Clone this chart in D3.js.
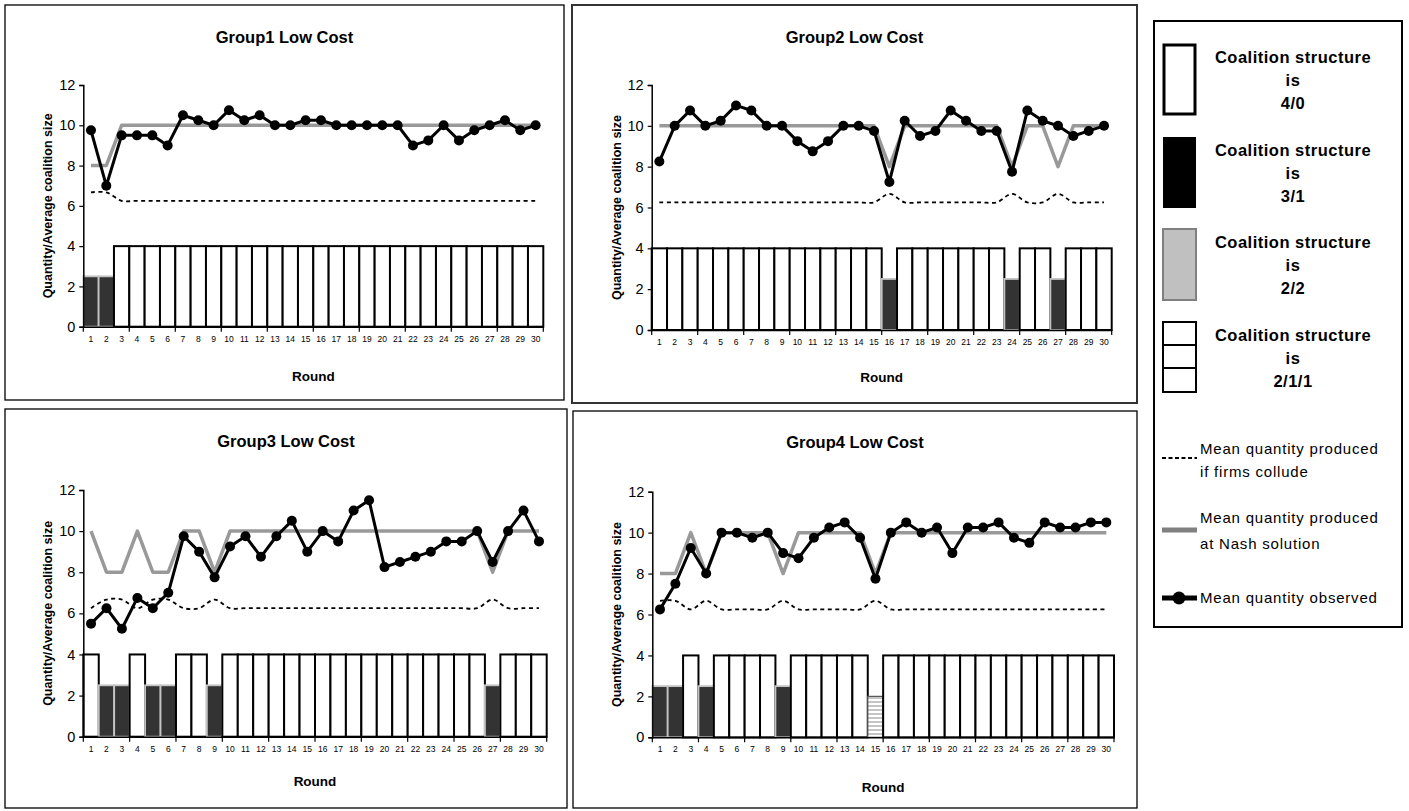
<!DOCTYPE html>
<html>
<head>
<meta charset="utf-8">
<script src="https://cdn.jsdelivr.net/npm/d3@7"></script>
<style>
  body { margin: 0; background: #fff; }
  svg { display: block; font-family: Arial, "Liberation Sans", sans-serif; }
</style>
</head>
<body>
<svg id="chart" width="1409" height="811"></svg>
<script>
// ---- data -------------------------------------------------------------
const rounds = [1,2,3,4,5,6,7,8,9,10,11,12,13,14,15,16,17,18,19,20,21,22,23,24,25,26,27,28,29,30];
const yTickValues = [0, 2, 4, 6, 8, 10, 12];
const groupTitles = ["Group1 Low Cost", "Group2 Low Cost", "Group3 Low Cost", "Group4 Low Cost"];

// average coalition size shown by the bar for each coalition structure
const structureCodes = ["4/0", "3/1", "2/2", "2/1/1"];
const structureSizes = [4, 2.5, 2, 2];

const g1Structure = ["3/1","3/1","4/0","4/0","4/0","4/0","4/0","4/0","4/0","4/0","4/0","4/0","4/0","4/0","4/0",
                     "4/0","4/0","4/0","4/0","4/0","4/0","4/0","4/0","4/0","4/0","4/0","4/0","4/0","4/0","4/0"];
const g1Observed  = [9.75,7,9.5,9.5,9.5,9,10.5,10.25,10,10.75,10.25,10.5,10,10,10.25,
                     10.25,10,10,10,10,10,9,9.25,10,9.25,9.75,10,10.25,9.75,10];
const g1Nash      = [8,8,10,10,10,10,10,10,10,10,10,10,10,10,10,
                     10,10,10,10,10,10,10,10,10,10,10,10,10,10,10];
const g1Collude   = [6.67,6.67,6.25,6.25,6.25,6.25,6.25,6.25,6.25,6.25,6.25,6.25,6.25,6.25,6.25,
                     6.25,6.25,6.25,6.25,6.25,6.25,6.25,6.25,6.25,6.25,6.25,6.25,6.25,6.25,6.25];

const g2Structure = ["4/0","4/0","4/0","4/0","4/0","4/0","4/0","4/0","4/0","4/0","4/0","4/0","4/0","4/0","4/0",
                     "3/1","4/0","4/0","4/0","4/0","4/0","4/0","4/0","3/1","4/0","4/0","3/1","4/0","4/0","4/0"];
const g2Observed  = [8.25,10,10.75,10,10.25,11,10.75,10,10,9.25,8.75,9.25,10,10,9.75,
                     7.25,10.25,9.5,9.75,10.75,10.25,9.75,9.75,7.75,10.75,10.25,10,9.5,9.75,10];
const g2Nash      = [10,10,10,10,10,10,10,10,10,10,10,10,10,10,10,
                     8,10,10,10,10,10,10,10,8,10,10,8,10,10,10];
const g2Collude   = [6.25,6.25,6.25,6.25,6.25,6.25,6.25,6.25,6.25,6.25,6.25,6.25,6.25,6.25,6.25,
                     6.67,6.25,6.25,6.25,6.25,6.25,6.25,6.25,6.67,6.25,6.25,6.67,6.25,6.25,6.25];

const g3Structure = ["4/0","3/1","3/1","4/0","3/1","3/1","4/0","4/0","3/1","4/0","4/0","4/0","4/0","4/0","4/0",
                     "4/0","4/0","4/0","4/0","4/0","4/0","4/0","4/0","4/0","4/0","4/0","3/1","4/0","4/0","4/0"];
const g3Observed  = [5.5,6.25,5.25,6.75,6.25,7,9.75,9,7.75,9.25,9.75,8.75,9.75,10.5,9,
                     10,9.5,11,11.5,8.25,8.5,8.75,9,9.5,9.5,10,8.5,10,11,9.5];
const g3Nash      = [10,8,8,10,8,8,10,10,8,10,10,10,10,10,10,
                     10,10,10,10,10,10,10,10,10,10,10,8,10,10,10];
const g3Collude   = [6.25,6.67,6.67,6.25,6.67,6.67,6.25,6.25,6.67,6.25,6.25,6.25,6.25,6.25,6.25,
                     6.25,6.25,6.25,6.25,6.25,6.25,6.25,6.25,6.25,6.25,6.25,6.67,6.25,6.25,6.25];

const g4Structure = ["3/1","3/1","4/0","3/1","4/0","4/0","4/0","4/0","3/1","4/0","4/0","4/0","4/0","4/0","2/1/1",
                     "4/0","4/0","4/0","4/0","4/0","4/0","4/0","4/0","4/0","4/0","4/0","4/0","4/0","4/0","4/0"];
const g4Observed  = [6.25,7.5,9.25,8,10,10,9.75,10,9,8.75,9.75,10.25,10.5,9.75,7.75,
                     10,10.5,10,10.25,9,10.25,10.25,10.5,9.75,9.5,10.5,10.25,10.25,10.5,10.5];
const g4Nash      = [8,8,10,8,10,10,10,10,8,10,10,10,10,10,8,
                     10,10,10,10,10,10,10,10,10,10,10,10,10,10,10];
const g4Collude   = [6.67,6.67,6.25,6.67,6.25,6.25,6.25,6.25,6.67,6.25,6.25,6.25,6.25,6.25,6.67,
                     6.25,6.25,6.25,6.25,6.25,6.25,6.25,6.25,6.25,6.25,6.25,6.25,6.25,6.25,6.25];

const legendStructureLabels = ["4/0", "3/1", "2/2", "2/1/1"];
const legendLineLabels = [
  ["Mean quantity produced", "if firms collude"],
  ["Mean quantity produced", "at Nash solution"],
  ["Mean quantity observed"]
];

// ---- layout -----------------------------------------------------------
const panels = [
  { frame: [5, 5, 559, 395],   plot: [83.3, 85, 543.3, 326.7],    titleY: 43,  roundY: 381,
    structure: g1Structure, observed: g1Observed, nash: g1Nash, collude: g1Collude, frameW: 1.3 },
  { frame: [572, 5, 565, 398], plot: [651.7, 85, 1111.7, 330],    titleY: 43,  roundY: 382,
    structure: g2Structure, observed: g2Observed, nash: g2Nash, collude: g2Collude, frameW: 2 },
  { frame: [5, 409, 562, 399], plot: [83.3, 490, 546.7, 736.7],   titleY: 447, roundY: 786,
    structure: g3Structure, observed: g3Observed, nash: g3Nash, collude: g3Collude, frameW: 1.3 },
  { frame: [573, 411, 564, 397], plot: [652.3, 491.7, 1114, 737.3], titleY: 448, roundY: 792,
    structure: g4Structure, observed: g4Observed, nash: g4Nash, collude: g4Collude, frameW: 1.3 }
];

const svg = d3.select("#chart");

// horizontal hatching for the 2/1/1 structure
const defs = svg.append("defs");
const pat = defs.append("pattern").attr("id", "hatch211")
  .attr("patternUnits", "userSpaceOnUse").attr("width", 6).attr("height", 4);
pat.append("rect").attr("width", 6).attr("height", 4).attr("fill", "#fff");
pat.append("line").attr("x1", 0).attr("x2", 6).attr("y1", 2).attr("y2", 2)
  .attr("stroke", "#8a8a8a").attr("stroke-width", 1);

const sizeOf = code => structureSizes[structureCodes.indexOf(code)];
const barStyle = {
  "4/0":   { fill: "#fff", stroke: "#000", sw: 2 },
  "3/1":   { fill: "#333", stroke: "#c4c4c4", sw: 1.8 },
  "2/2":   { fill: "#c0c0c0", stroke: "#808080", sw: 1.5 },
  "2/1/1": { fill: "url(#hatch211)", stroke: "#555", sw: 1.2 }
};

panels.forEach((p, i) => {
  const [fx, fy, fw, fh] = p.frame;
  const [x0, yTop, x1, yBottom] = p.plot;
  const g = svg.append("g");

  g.append("rect").attr("x", fx).attr("y", fy).attr("width", fw).attr("height", fh)
    .attr("fill", "#fff").attr("stroke", i === 1 ? "#333" : "#000").attr("stroke-width", p.frameW);

  g.append("text").attr("x", fx + fw / 2).attr("y", p.titleY)
    .attr("text-anchor", "middle").attr("font-weight", "bold").attr("font-size", 16.5)
    .text(groupTitles[i]);

  const x = d3.scaleBand().domain(rounds).range([x0, x1]).padding(0);
  const y = d3.scaleLinear().domain([0, 12]).range([yBottom, yTop]);

  // coalition-structure bars (drawn left to right so each outline overlaps its neighbour)
  const rows = rounds.map((r, k) => ({ r, s: p.structure[k] }));
  g.append("g").selectAll("rect").data(rows).join("rect")
    .attr("x", d => x(d.r))
    .attr("y", d => y(sizeOf(d.s)))
    .attr("width", x.bandwidth())
    .attr("height", d => y(0) - y(sizeOf(d.s)))
    .attr("fill", d => barStyle[d.s].fill)
    .attr("stroke", d => barStyle[d.s].stroke)
    .attr("stroke-width", d => barStyle[d.s].sw);

  // axes
  const yAxis = d3.axisLeft(y).tickValues(yTickValues).tickSize(4).tickPadding(4);
  const ya = g.append("g").attr("transform", `translate(${x0},0)`).call(yAxis);
  ya.select(".domain").attr("stroke", "#000").attr("stroke-width", 1.5);
  ya.selectAll(".tick line").attr("stroke", "#000").attr("stroke-width", 1.2);
  ya.selectAll("text").attr("font-size", 14.5).attr("fill", "#000")
    .attr("font-family", "Arial, 'Liberation Sans', sans-serif");

  const xa = g.append("g").attr("transform", `translate(0,${y(0)})`)
    .call(d3.axisBottom(x).tickSize(0).tickPadding(9));
  xa.select(".domain").attr("stroke", "#000").attr("stroke-width", 1.5);
  xa.selectAll("text").attr("font-size", 8.5).attr("fill", "#000")
    .attr("font-family", "Arial, 'Liberation Sans', sans-serif");
  // tick marks every third round boundary
  const boundaries = rounds.filter(r => (r - 1) % 3 === 0).map(r => x(r)).concat([x1]);
  g.append("g").selectAll("line").data(boundaries).join("line")
    .attr("x1", d => d).attr("x2", d => d)
    .attr("y1", y(0)).attr("y2", y(0) + 5)
    .attr("stroke", "#000").attr("stroke-width", 1.2);

  // axis titles
  g.append("text").attr("x", (x0 + x1) / 2).attr("y", p.roundY)
    .attr("text-anchor", "middle").attr("font-weight", "bold").attr("font-size", 13.5)
    .text("Round");
  g.append("text")
    .attr("transform", `translate(${x0 - 31},${(yTop + yBottom) / 2}) rotate(-90)`)
    .attr("text-anchor", "middle").attr("font-weight", "bold").attr("font-size", 12.5)
    .text("Quantity/Average coalition size");

  const cx = r => x(r) + x.bandwidth() / 2;

  // collusive quantity (smoothed dashed line)
  g.append("path").datum(rounds.map((r, k) => [cx(r), y(p.collude[k])]))
    .attr("fill", "none").attr("stroke", "#000").attr("stroke-width", 1.8)
    .attr("stroke-dasharray", "4,3.5")
    .attr("d", d3.line().curve(d3.curveCatmullRom.alpha(0.5)));

  // Nash quantity
  g.append("path").datum(rounds.map((r, k) => [cx(r), y(p.nash[k])]))
    .attr("fill", "none").attr("stroke", "#999").attr("stroke-width", 3.5)
    .attr("stroke-linejoin", "round")
    .attr("d", d3.line());

  // observed quantity
  g.append("path").datum(rounds.map((r, k) => [cx(r), y(p.observed[k])]))
    .attr("fill", "none").attr("stroke", "#000").attr("stroke-width", 3)
    .attr("stroke-linejoin", "round")
    .attr("d", d3.line());
  g.append("g").selectAll("circle").data(rounds.map((r, k) => [cx(r), y(p.observed[k])]))
    .join("circle").attr("cx", d => d[0]).attr("cy", d => d[1]).attr("r", 5).attr("fill", "#000");
});

// ---- legend -----------------------------------------------------------
const lg = svg.append("g");
lg.append("rect").attr("x", 1154).attr("y", 21).attr("width", 248).attr("height", 606)
  .attr("fill", "#fff").attr("stroke", "#000").attr("stroke-width", 2);

const swatchX = 1163, swatchW = 33, textCx = 1293;
const swatchTops = [44, 137, 229, 322];
const swatchH = 71;
legendStructureLabels.forEach((lab, i) => {
  const top = swatchTops[i];
  const s = lg.append("g");
  if (lab === "4/0") {
    s.append("rect").attr("x", swatchX + 1).attr("y", top + 1).attr("width", swatchW - 2).attr("height", swatchH - 2)
      .attr("fill", "#fff").attr("stroke", "#000").attr("stroke-width", 3);
  } else if (lab === "3/1") {
    s.append("rect").attr("x", swatchX).attr("y", top).attr("width", swatchW).attr("height", swatchH).attr("fill", "#000");
  } else if (lab === "2/2") {
    s.append("rect").attr("x", swatchX).attr("y", top).attr("width", swatchW).attr("height", swatchH)
      .attr("fill", "#c0c0c0").attr("stroke", "#808080").attr("stroke-width", 2);
  } else {
    s.append("rect").attr("x", swatchX).attr("y", top).attr("width", swatchW).attr("height", swatchH - 1)
      .attr("fill", "#fff").attr("stroke", "#000").attr("stroke-width", 2);
    [23, 46].forEach(dy => s.append("line").attr("x1", swatchX).attr("x2", swatchX + swatchW)
      .attr("y1", top + dy).attr("y2", top + dy).attr("stroke", "#000").attr("stroke-width", 2));
  }
  ["Coalition structure", "is", lab].forEach((t, k) => {
    lg.append("text").attr("x", textCx).attr("y", top + 19 + k * 23)
      .attr("text-anchor", "middle").attr("font-weight", "bold").attr("font-size", 16.5)
      .attr("letter-spacing", 0.5).text(t);
  });
});

// line keys
const lineKeyY = [458, 530, 598];
lg.append("line").attr("x1", 1162).attr("x2", 1197).attr("y1", lineKeyY[0]).attr("y2", lineKeyY[0])
  .attr("stroke", "#000").attr("stroke-width", 1.8).attr("stroke-dasharray", "4,2.5");
lg.append("line").attr("x1", 1162).attr("x2", 1197).attr("y1", lineKeyY[1]).attr("y2", lineKeyY[1])
  .attr("stroke", "#808080").attr("stroke-width", 5);
lg.append("line").attr("x1", 1162).attr("x2", 1197).attr("y1", lineKeyY[2]).attr("y2", lineKeyY[2])
  .attr("stroke", "#000").attr("stroke-width", 5);
lg.append("circle").attr("cx", 1179).attr("cy", lineKeyY[2]).attr("r", 6.5).attr("fill", "#000");

const lineTextY = [[454, 477], [523, 549], [603]];
legendLineLabels.forEach((lines, i) => {
  lines.forEach((t, k) => {
    lg.append("text").attr("x", 1200).attr("y", lineTextY[i][k])
      .attr("font-size", 15).attr("letter-spacing", 0.8).text(t);
  });
});
</script>
</body>
</html>
